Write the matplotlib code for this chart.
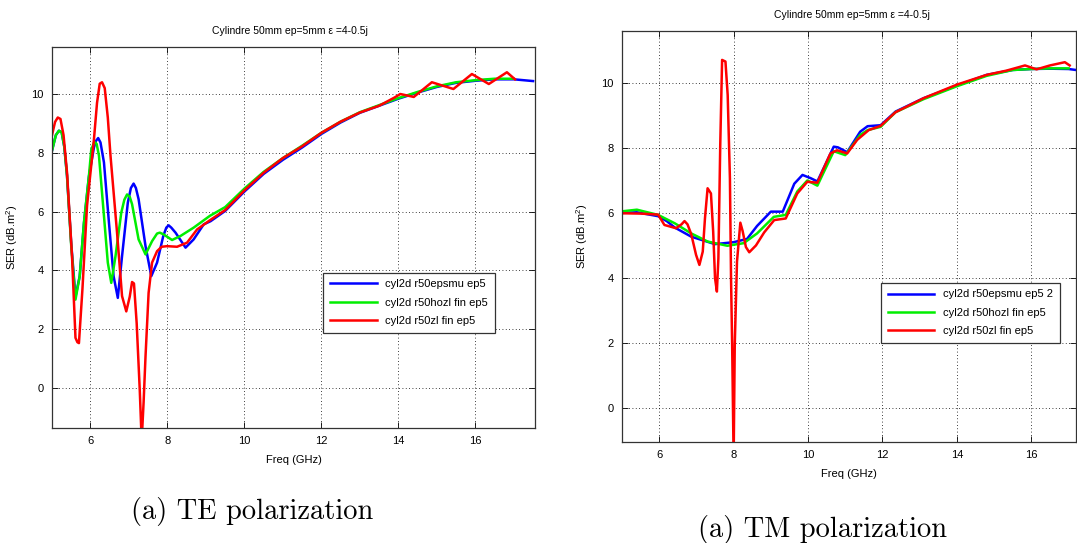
import matplotlib
matplotlib.use("Agg")
import matplotlib.pyplot as plt

plt.rcParams['font.family'] = ['Liberation Sans', 'DejaVu Sans']
plt.rcParams['mathtext.default'] = 'regular'

# ---- TE polarization (left) ----
te_blue_f = [5.0, 5.1, 5.18, 5.25, 5.32, 5.39, 5.5, 5.61, 5.72, 5.83, 5.96, 6.09, 6.14,
             6.2, 6.26, 6.35, 6.48, 6.6, 6.71, 6.82, 6.97, 7.05, 7.12, 7.18, 7.25, 7.43,
             7.58, 7.73, 7.89, 7.97, 8.03, 8.1, 8.21, 8.47, 8.68, 8.94, 9.12, 9.5, 10.0,
             10.5, 11.0, 11.5, 12.0, 12.5, 13.0, 13.5, 14.0, 14.5, 15.0, 15.5, 16.0, 16.5,
             17.0, 17.5]
te_blue = [8.07, 8.6, 8.75, 8.7, 8.2, 7.22, 4.9, 3.1, 3.8, 5.6, 7.2, 8.18, 8.4,
           8.5, 8.35, 7.67, 5.62, 3.8, 3.06, 4.48, 6.3, 6.8, 6.95, 6.8, 6.42, 4.82,
           3.8, 4.26, 5.16, 5.45, 5.53, 5.45, 5.28, 4.77, 5.05, 5.56, 5.67, 6.02, 6.68,
           7.28, 7.76, 8.18, 8.64, 9.03, 9.36, 9.6, 9.84, 10.05, 10.24, 10.38, 10.45, 10.5,
           10.5, 10.44]

te_green_f = [5.0, 5.1, 5.18, 5.25, 5.32, 5.39, 5.5, 5.61, 5.72, 5.83, 5.96, 6.02, 6.1,
              6.16, 6.22, 6.35, 6.45, 6.54, 6.65, 6.8, 6.88, 6.95, 7.02, 7.08, 7.25, 7.43,
              7.6, 7.73, 7.8, 7.9, 8.12, 8.33, 8.68, 9.1, 9.5, 10.0, 10.5, 11.0, 11.5,
              12.0, 12.5, 13.0, 13.5, 14.0, 14.5, 15.0, 15.5, 16.0, 16.5, 17.0]
te_green = [8.07, 8.6, 8.75, 8.7, 8.2, 7.22, 4.82, 3.0, 3.8, 5.62, 7.22, 8.1, 8.37,
            8.3, 7.9, 5.85, 4.26, 3.57, 4.48, 5.96, 6.4, 6.58, 6.5, 6.25, 5.05, 4.54,
            4.99, 5.25, 5.28, 5.22, 5.03, 5.16, 5.45, 5.85, 6.15, 6.78, 7.35, 7.82, 8.24,
            8.68, 9.06, 9.38, 9.62, 9.86, 10.07, 10.26, 10.4, 10.47, 10.52, 10.52]

te_red_f = [5.0, 5.08, 5.15, 5.22, 5.3, 5.39, 5.52, 5.61, 5.66, 5.7, 5.79, 5.91, 6.09,
            6.17, 6.24, 6.3, 6.37, 6.45, 6.52, 6.69, 6.82, 6.93, 7.02, 7.08, 7.13, 7.2,
            7.28, 7.33, 7.38, 7.43, 7.51, 7.6, 7.73, 7.85, 7.99, 8.25, 8.51, 8.77, 9.1,
            9.5, 10.0, 10.5, 11.0, 11.5, 12.0, 12.5, 13.0, 13.5, 13.9, 14.05, 14.4,
            14.87, 15.43, 15.91, 16.35, 16.82, 17.03]
te_red = [8.6, 9.05, 9.2, 9.15, 8.6, 7.33, 4.48, 1.7, 1.55, 1.52, 3.34, 6.19, 8.46,
          9.7, 10.35, 10.4, 10.2, 9.2, 7.9, 5.28, 3.12, 2.6, 3.1, 3.6, 3.55, 2.2,
          -0.07, -1.8, -0.5, 1.07, 3.23, 4.26, 4.65, 4.8, 4.82, 4.8, 4.94, 5.39, 5.7,
          6.05, 6.72, 7.32, 7.82, 8.22, 8.68, 9.06, 9.37, 9.6, 9.88, 10.0, 9.9,
          10.4, 10.17, 10.68, 10.34, 10.74, 10.5]

# ---- TM polarization (right) ----
tm_blue_f = [5.0, 5.4, 5.97, 6.2, 6.42, 6.86, 7.5, 8.0, 8.36, 8.63, 9.0, 9.32, 9.63, 9.85,
             10.07, 10.25, 10.69, 10.8, 11.05, 11.4, 11.6, 11.95, 12.35, 13.1, 14.0, 14.8,
             15.5, 16.0, 16.5, 17.0, 17.2]
tm_blue = [6.0, 6.02, 5.9, 5.75, 5.55, 5.27, 5.04, 5.1, 5.2, 5.6, 6.04, 6.04, 6.9, 7.17,
           7.07, 6.97, 8.04, 8.02, 7.87, 8.5, 8.67, 8.7, 9.12, 9.53, 9.92, 10.25, 10.4,
           10.43, 10.44, 10.43, 10.4]

tm_green_f = [5.0, 5.4, 5.97, 6.42, 6.86, 7.3, 7.83, 8.27, 8.63, 9.08, 9.4, 9.71, 9.98,
              10.25, 10.69, 11.0, 11.4, 11.6, 11.95, 12.35, 13.1, 14.0, 14.8, 15.5, 16.0,
              16.5, 17.0]
tm_green = [6.05, 6.1, 5.94, 5.68, 5.37, 5.12, 4.99, 5.07, 5.37, 5.88, 5.94, 6.66, 7.0,
            6.84, 7.9, 7.78, 8.4, 8.55, 8.65, 9.1, 9.5, 9.9, 10.22, 10.4, 10.43, 10.45,
            10.45]

tm_red_f = [5.0, 5.5, 5.97, 6.14, 6.45, 6.6, 6.68, 6.76, 6.86, 6.99, 7.08, 7.17, 7.23,
            7.3, 7.39, 7.45, 7.5, 7.55, 7.59, 7.64, 7.69, 7.78, 7.84, 7.9, 7.93, 7.96,
            8.0, 8.03, 8.09, 8.18, 8.24, 8.33, 8.42, 8.6, 8.82, 9.09, 9.4, 9.71, 9.98,
            10.25, 10.6, 10.78, 11.05, 11.32, 11.63, 11.95, 12.35, 13.1, 14.0, 14.8,
            15.33, 15.83, 16.14, 16.5, 16.9, 17.03]
tm_red = [5.99, 5.98, 5.95, 5.63, 5.53, 5.65, 5.75, 5.65, 5.35, 4.71, 4.4, 4.81, 5.84,
          6.76, 6.6, 5.43, 3.99, 3.58, 4.6, 8.09, 10.71, 10.66, 9.63, 7.07, 3.99, 1.94,
          -1.6, 1.94, 4.5, 5.7, 5.45, 4.95, 4.79, 5.0, 5.4, 5.78, 5.83, 6.6, 6.96,
          6.93, 7.83, 7.93, 7.83, 8.25, 8.55, 8.68, 9.1, 9.53, 9.95, 10.25,
          10.38, 10.54, 10.42, 10.54, 10.64, 10.54]

labels_te = ['cyl2d r50epsmu ep5', 'cyl2d r50hozl fin ep5', 'cyl2d r50zl fin ep5']
labels_tm = ['cyl2d r50epsmu ep5 2', 'cyl2d r50hozl fin ep5', 'cyl2d r50zl fin ep5']
title = 'Cylindre 50mm ep=5mm ε =4-0.5j'

W, H = 1077, 543
fig = plt.figure(figsize=(W / 100, H / 100), dpi=100)


def px_axes(left, top, right, bottom):
    return fig.add_axes([left / W, 1 - bottom / H, (right - left) / W, (bottom - top) / H])


def style(ax, xlim, ylim):
    ax.set_xlim(*xlim)
    ax.set_ylim(*ylim)
    ax.set_xticks([6, 8, 10, 12, 14, 16])
    ax.set_yticks([0, 2, 4, 6, 8, 10])
    ax.tick_params(direction='in', top=True, right=True, length=4, width=0.6,
                   labelsize=8, pad=6)
    ax.grid(True, color='k', linestyle=(0, (1, 3)), linewidth=0.6)
    for s in ax.spines.values():
        s.set_linewidth(0.9)
        s.set_color('#333333')
    ax.set_xlabel('Freq (GHz)', fontsize=8, labelpad=6)
    ax.set_ylabel('SER (dB.m$^2$)', fontsize=8, labelpad=8)


def draw(ax, data, labels, anchor):
    colors = ['#0000ff', '#00ee00', '#ff0000']
    for (f, v), c, lab in zip(data, colors, labels):
        ax.plot(f, v, color=c, lw=1.8, label=lab, solid_joinstyle='round')
    leg = ax.legend(loc='lower left', bbox_to_anchor=anchor, fontsize=8, fancybox=False,
                    framealpha=1, edgecolor='#333333', handlelength=4.2,
                    borderpad=0.6, labelspacing=0.75)
    leg.get_frame().set_linewidth(0.9)


ax1 = px_axes(52, 47, 535, 428)
draw(ax1, [(te_blue_f, te_blue), (te_green_f, te_green), (te_red_f, te_red)],
     labels_te, (0.55, 0.236))
style(ax1, (5, 17.55), (-1.37, 11.6))

ax2 = px_axes(622, 31, 1076, 442)
draw(ax2, [(tm_blue_f, tm_blue), (tm_green_f, tm_green), (tm_red_f, tm_red)],
     labels_tm, (0.558, 0.228))
style(ax2, (5, 17.2), (-1.05, 11.6))

fig.text(290 / W, 1 - 31 / H, title, ha='center', va='center', fontsize=7.5)
fig.text(852 / W, 1 - 15 / H, title, ha='center', va='center', fontsize=7.5)

fig.text(252 / W, 1 - 512 / H, '(a) TE polarization', ha='center', va='center',
         fontsize=20.5, family='cmr10')
fig.text(823 / W, 1 - 529 / H, '(a) TM polarization', ha='center', va='center',
         fontsize=20.5, family='cmr10')

fig.savefig('out.png', dpi=100)
